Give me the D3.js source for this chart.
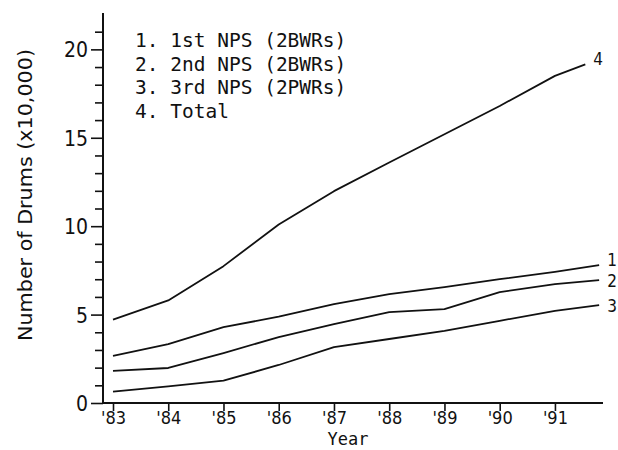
<!DOCTYPE html>
<html>
<head>
<meta charset="utf-8">
<script src="https://cdn.jsdelivr.net/npm/d3@7"></script>
<style>
  body { margin: 0; background: #fff; }
  svg { display: block; }
</style>
</head>
<body>
<div id="chart"></div>
<script>
// data (units: x10,000 drums)
var years = [1983, 1984, 1985, 1986, 1987, 1988, 1989, 1990, 1991];
var seriesNames = ["1", "2", "3", "4"];
var legendLabels = ["1. 1st NPS (2BWRs)", "2. 2nd NPS (2BWRs)", "3. 3rd NPS (2PWRs)", "4. Total"];
var endYears = [1991.8, 1991.8, 1991.8, 1991.55];
var nps1 = [2.67, 3.33, 4.29, 4.88, 5.59, 6.16, 6.55, 7.0, 7.42, 7.8];
var nps2 = [1.82, 1.98, 2.82, 3.73, 4.46, 5.14, 5.31, 6.27, 6.72, 6.95];
var nps3 = [0.64, 0.94, 1.26, 2.15, 3.16, 3.62, 4.08, 4.65, 5.21, 5.54];
var total = [4.72, 5.8, 7.74, 10.1, 11.98, 13.6, 15.2, 16.8, 18.5, 19.15];
var yLabelTicks = [0, 5, 10, 15, 20];
var yMinorTicks = d3.range(0, 22);

var width = 618,
    height = 450;

var svg = d3.select("#chart").append("svg")
    .attr("width", width)
    .attr("height", height);

var x = d3.scaleLinear().domain([1983, 1991.87]).range([113, 603]);
var y = d3.scaleLinear().domain([0, 22]).range([403, 14]);
var x0 = 103;

var allSeries = [nps1, nps2, nps3, total].map(function (vals, i) {
    var xs = years.concat([endYears[i]]);
    return {
        name: seriesNames[i],
        points: vals.map(function (v, j) { return [xs[j], v]; })
    };
});

// y axis
var yAxis = svg.append("g")
    .attr("transform", "translate(" + x0 + ",0)")
    .call(d3.axisLeft(y)
        .tickValues(yMinorTicks)
        .tickSizeOuter(0)
        .tickFormat(function (d) { return yLabelTicks.indexOf(d) >= 0 ? d : ""; }));

yAxis.select(".domain").remove();
yAxis.selectAll(".tick line")
    .attr("x2", function (d) { return d % 5 === 0 ? -12 : -8; })
    .attr("stroke", "#111")
    .attr("stroke-width", 1.6);
yAxis.selectAll(".tick text")
    .attr("x", -15)
    .attr("dy", "0.36em")
    .style("font-family", "'Liberation Sans Narrow', 'DejaVu Sans Condensed', sans-serif")
    .style("font-size", "21px")
    .attr("fill", "#111");

svg.append("line")
    .attr("x1", x0).attr("x2", x0)
    .attr("y1", 13).attr("y2", y(0))
    .attr("stroke", "#111")
    .attr("stroke-width", 2);

// x axis
var xAxis = svg.append("g")
    .attr("transform", "translate(0," + y(0) + ")")
    .call(d3.axisBottom(x)
        .tickValues(years)
        .tickSize(8)
        .tickSizeOuter(0)
        .tickFormat(function (d) { return "'" + String(d).slice(2); }));

xAxis.select(".domain").remove();
xAxis.selectAll(".tick line")
    .attr("stroke", "#111")
    .attr("stroke-width", 1.6);
xAxis.selectAll(".tick text")
    .attr("y", 8)
    .attr("dy", "0.71em")
    .style("font-family", "'Liberation Sans Narrow', 'DejaVu Sans Condensed', sans-serif")
    .style("font-size", "18px")
    .attr("fill", "#111");

svg.append("line")
    .attr("x1", x0).attr("x2", 603)
    .attr("y1", y(0)).attr("y2", y(0))
    .attr("stroke", "#111")
    .attr("stroke-width", 2);

// axis titles
svg.append("text")
    .attr("transform", "translate(32,195) rotate(-90)")
    .attr("text-anchor", "middle")
    .attr("textLength", 292)
    .attr("lengthAdjust", "spacingAndGlyphs")
    .style("font-family", "'DejaVu Sans Condensed', sans-serif")
    .style("font-size", "20px")
    .attr("fill", "#111")
    .text("Number of Drums (x10,000)");

svg.append("text")
    .attr("x", 348)
    .attr("y", 445)
    .attr("text-anchor", "middle")
    .style("font-family", "'DejaVu Sans Mono', monospace")
    .style("font-size", "17px")
    .attr("fill", "#111")
    .text("Year");

// lines
var line = d3.line()
    .x(function (d) { return x(d[0]); })
    .y(function (d) { return y(d[1]); });

svg.selectAll("path.series")
    .data(allSeries)
    .enter().append("path")
    .attr("class", "series")
    .attr("d", function (d) { return line(d.points); })
    .attr("fill", "none")
    .attr("stroke", "#111")
    .attr("stroke-width", 1.8)
    .attr("stroke-linejoin", "round");

// series number at end of each line (small vertical nudges as in the figure)
var labelNudge = [-5, 1, 1, -5];
svg.selectAll("text.endlabel")
    .data(allSeries)
    .enter().append("text")
    .attr("class", "endlabel")
    .attr("x", function (d) { return x(d.points[d.points.length - 1][0]) + 8; })
    .attr("y", function (d, i) { return y(d.points[d.points.length - 1][1]) + labelNudge[i]; })
    .attr("dy", "0.35em")
    .style("font-family", "'Liberation Sans Narrow', 'DejaVu Sans Condensed', sans-serif")
    .style("font-size", "17px")
    .attr("fill", "#111")
    .text(function (d) { return d.name; });

// legend
svg.selectAll("text.legend")
    .data(legendLabels)
    .enter().append("text")
    .attr("class", "legend")
    .attr("x", 135)
    .attr("y", function (d, i) { return 47 + i * 23.7; })
    .style("font-family", "'DejaVu Sans Mono', monospace")
    .style("font-size", "19.5px")
    .attr("fill", "#111")
    .attr("xml:space", "preserve")
    .text(function (d) { return d; });
</script>
</body>
</html>
